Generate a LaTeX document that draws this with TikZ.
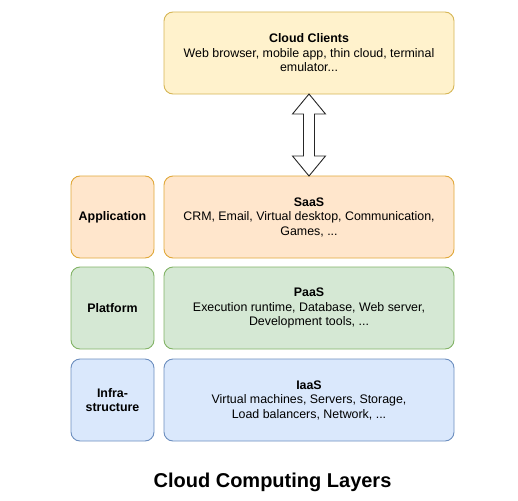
\documentclass[tikz,border=0pt]{standalone}
\usepackage{fontspec}
\setmainfont{Liberation Sans}
\usetikzlibrary{positioning,calc}
\definecolor{clientfill}{HTML}{FFF2CC}
\definecolor{clientline}{HTML}{D6B656}
\definecolor{appfill}{HTML}{FFE6CC}
\definecolor{appline}{HTML}{E0A83A}
\definecolor{platfill}{HTML}{D5E8D4}
\definecolor{platline}{HTML}{82B366}
\definecolor{infrafill}{HTML}{DAE8FC}
\definecolor{infraline}{HTML}{6C8EBF}

\begin{document}
\begin{tikzpicture}[x=1pt,y=1pt,font=\fontsize{12.4}{14.5}\selectfont,
	layer/.style={draw, rounded corners=9pt, line width=0.9pt, outer sep=0pt, inner sep=0pt,
		minimum width=290pt, minimum height=82pt, align=center},
	sidebox/.style={layer, minimum width=83pt, font=\fontsize{12.4}{14.5}\selectfont\bfseries},
	clients/.style={fill=clientfill, draw=clientline},
	application/.style={fill=appfill, draw=appline},
	platform/.style={fill=platfill, draw=platline},
	infra/.style={fill=infrafill, draw=infraline},
	bigarrow/.style={draw=black!85, fill=white, line width=0.9pt, line join=miter}]
%	\draw [step=10pt,thin,dotted,draw=black!40] (0,0) grid (518,-500);
	\useasboundingbox (0,0) rectangle (518,-500);
	
	\node [layer, clients] (cc) at (309,-53) {\textbf{Cloud Clients}\\Web browser, mobile app, thin cloud, terminal\\emulator...};
	\node [layer, application, below=82pt of cc] (saas) {\textbf{SaaS}\\CRM, Email, Virtual desktop, Communication,\\Games, ...};
	\node [layer, platform, below=9pt of saas] (paas) {\textbf{PaaS}\\Execution runtime, Database, Web server,\\Development tools, ...};
	\node [layer, infra, below=10pt of paas] (iaas) {\textbf{IaaS}\\Virtual machines, Servers, Storage,\\Load balancers, Network, ...};
	
	\node [sidebox, application, left=10pt of saas] (app) {Application};
	\node [sidebox, platform, left=10pt of paas] (plat) {Platform};
	\node [sidebox, infra, left=10pt of iaas] (infr) {Infra-\\structure};
	
	\draw [bigarrow] (cc.south) -- ++(16.5,-20) -- ++(-11,0) -- ($(saas.north)+(5.5,20)$) -- ++(11,0)
		-- (saas.north) -- ++(-16.5,20) -- ++(11,0) -- ($(cc.south)+(-5.5,-20)$) -- ++(-11,0) -- cycle;
	
	\node (title) at (272.5,-482) {\fontsize{20}{24}\selectfont\bfseries Cloud Computing Layers};
\end{tikzpicture}
\end{document}
